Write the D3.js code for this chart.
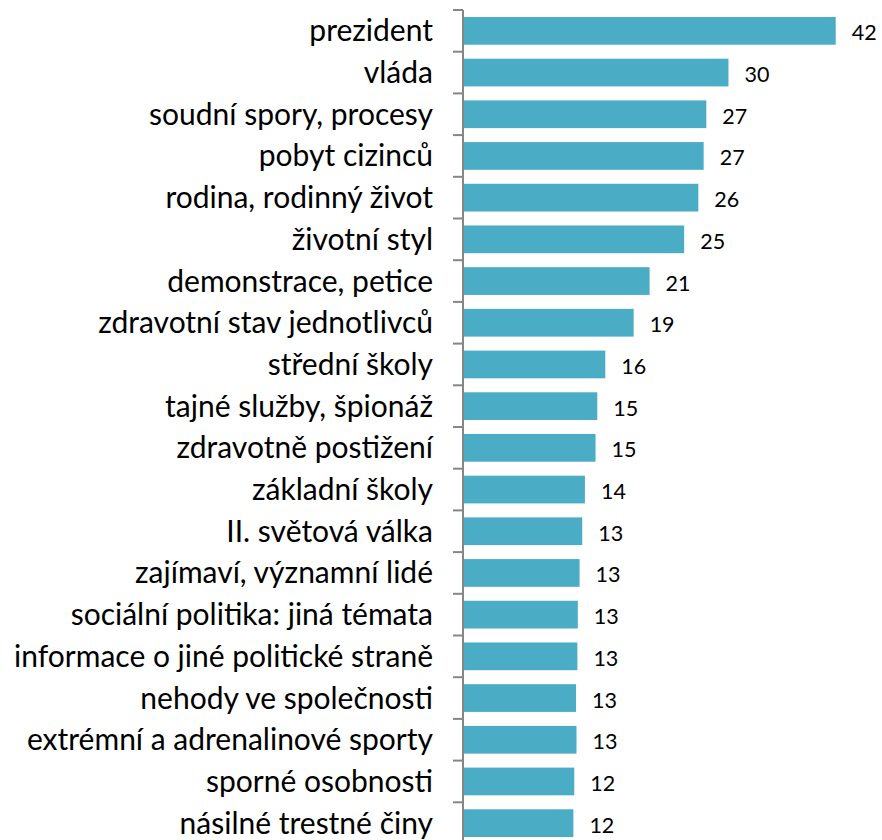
<!DOCTYPE html>
<meta charset="utf-8">
<style>
body { margin: 0; background: #fff; }
.cat-label { font: 30px Lato, sans-serif; fill: #000; }
.val-label { font: 21.5px Lato, sans-serif; fill: #000; }
.axis path, .axis line { stroke: #868686; stroke-width: 2; }
</style>
<body>
<script src="https://d3js.org/d3.v7.min.js"></script>
<script>

// data
var categories = ["prezident", "vláda", "soudní spory, procesy", "pobyt cizinců",
  "rodina, rodinný život", "životní styl", "demonstrace, petice",
  "zdravotní stav jednotlivců", "střední školy", "tajné služby, špionáž",
  "zdravotně postižení", "základní školy", "II. světová válka",
  "zajímaví, významní lidé", "sociální politika: jiná témata",
  "informace o jiné politické straně", "nehody ve společnosti",
  "extrémní a adrenalinové sporty", "sporné osobnosti", "násilné trestné činy"];
var values = [42.0, 29.9, 27.4, 27.1, 26.5, 24.9, 21.0, 19.2, 16.0, 15.1,
  14.9, 13.7, 13.4, 13.1, 12.9, 12.85, 12.7, 12.75, 12.5, 12.4];
var valueLabels = ["42", "30", "27", "27", "26", "25", "21", "19", "16", "15",
  "15", "14", "13", "13", "13", "13", "13", "13", "12", "12"];

var rows = categories.map(function(c, i) {
  return {cat: c, value: values[i], label: valueLabels[i]};
});

var svg = d3.select("body").append("svg")
    .attr("width", 882)
    .attr("height", 840);

var axisX = 463;

var y = d3.scaleBand()
    .domain(categories)
    .range([10, 844])
    .paddingInner(0.335)
    .paddingOuter(0.1675);

var x = d3.scaleLinear()
    .domain([0, 42])
    .range([axisX + 0.5, 835.7]);

// bars
svg.selectAll(".bar")
    .data(rows)
  .enter().append("rect")
    .attr("class", "bar")
    .attr("x", x(0))
    .attr("y", function(d) { return y(d.cat); })
    .attr("width", function(d) { return x(d.value) - x(0); })
    .attr("height", y.bandwidth())
    .attr("fill", "#4BACC6");

// value labels
svg.selectAll(".val-label")
    .data(rows)
  .enter().append("text")
    .attr("class", "val-label")
    .attr("x", function(d) { return x(d.value) + 16; })
    .attr("y", function(d) { return y(d.cat) + y.bandwidth() / 2 + 2; })
    .attr("dy", "0.35em")
    .text(function(d) { return d.label; });

// category labels
svg.selectAll(".cat-label")
    .data(rows)
  .enter().append("text")
    .attr("class", "cat-label")
    .attr("x", axisX - 30)
    .attr("y", function(d) { return y(d.cat) + y.bandwidth() / 2; })
    .attr("dy", "0.35em")
    .attr("text-anchor", "end")
    .text(function(d) { return d.cat; });

// axis line and ticks between categories
var g = svg.append("g").attr("class", "axis");
g.append("line")
    .attr("x1", axisX).attr("x2", axisX)
    .attr("y1", y.range()[0]).attr("y2", y.range()[1]);
g.selectAll(".tick")
    .data(categories)
  .enter().append("line")
    .attr("class", "tick")
    .attr("x1", axisX - 10).attr("x2", axisX)
    .attr("y1", function(d) { return y(d) - y.step() * y.paddingInner() / 2; })
    .attr("y2", function(d) { return y(d) - y.step() * y.paddingInner() / 2; });

</script>
</body>
